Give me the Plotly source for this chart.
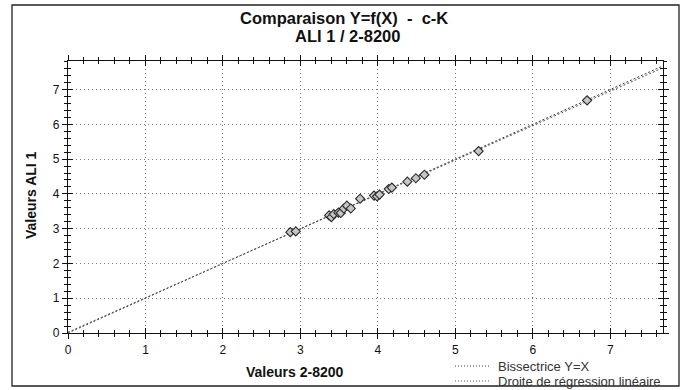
import numpy as np
import plotly.graph_objects as go

# Paired measurements: 2-8200 (X) against ALI 1 (Y)
x_vals = [2.87, 2.94, 3.37, 3.40, 3.43, 3.49, 3.52, 3.56, 3.60, 3.65, 3.77,
          3.95, 3.99, 4.02, 4.14, 4.18, 4.38, 4.49, 4.60, 5.30, 6.70]
y_vals = [2.90, 2.92, 3.38, 3.33, 3.42, 3.46, 3.45, 3.58, 3.66, 3.58, 3.86,
          3.95, 3.93, 3.98, 4.14, 4.18, 4.35, 4.45, 4.55, 5.23, 6.69]
x_max = 7.68
y_max = 7.82
tick_vals = [0, 1, 2, 3, 4, 5, 6, 7]
legend_labels = ["Bissectrice Y=X", "Droite de régression linéaire"]

FONT = "Liberation Sans, Arial, sans-serif"
W, H = 686, 390
ML, MR, MT, MB = 68, 23, 61, 57
PW, PH = W - ML - MR, H - MT - MB


def px_x(p):
    """Pixel column -> paper x."""
    return (p - ML) / PW


def px_y(p):
    """Pixel row -> paper y."""
    return (H - MB - p) / PH


slope, intercept = np.polyfit(x_vals, y_vals, 1)
line_x = [0, x_max]
reg_y = [intercept + slope * v for v in line_x]

line_styles = [dict(color="#3a3a3a", width=1, dash="2px,2px"),
               dict(color="#555555", width=1, dash="2px,2px")]

fig = go.Figure()
fig.add_trace(go.Scatter(x=line_x, y=line_x, mode="lines", name=legend_labels[0],
                         line=line_styles[0], hoverinfo="skip", showlegend=False))
fig.add_trace(go.Scatter(x=line_x, y=reg_y, mode="lines", name=legend_labels[1],
                         line=line_styles[1], hoverinfo="skip", showlegend=False))
fig.add_trace(go.Scatter(
    x=x_vals, y=y_vals, mode="markers", showlegend=False,
    marker=dict(symbol="diamond", size=7, color="#c4c8c4",
                line=dict(color="#2a2a2a", width=1.1))))
# helper trace so the overlay axes (inner tick halves) are drawn
fig.add_trace(go.Scatter(x=[None], y=[None], xaxis="x2", yaxis="y2",
                         showlegend=False, hoverinfo="skip"))

axis_common = dict(tickvals=tick_vals, showline=True, linecolor="#111111",
                   linewidth=1.3, mirror="ticks", zeroline=False)
minor_out = dict(dtick=0.2, ticks="outside", ticklen=3, tickcolor="#111111",
                 showgrid=False)
minor_in = dict(dtick=0.2, ticks="inside", ticklen=3, tickcolor="#111111")
grid = dict(showgrid=True, gridcolor="#7a7a7a", griddash="1px,3px", gridwidth=1)

fig.update_layout(
    width=W, height=H,
    margin=dict(l=ML, r=MR, t=MT, b=MB),
    paper_bgcolor="white", plot_bgcolor="white",
    font=dict(family=FONT, size=12, color="#111111"),
    showlegend=False,
    xaxis=dict(**axis_common, **grid, range=[0, x_max], ticks="outside",
               ticklen=5, tickcolor="#111111", minor=minor_out),
    yaxis=dict(**axis_common, **grid, range=[0, y_max], ticks="outside",
               ticklen=5, tickcolor="#111111", minor=minor_out),
    xaxis2=dict(**axis_common, range=[0, x_max], overlaying="x", anchor="y2",
                showgrid=False, showticklabels=False, ticks="inside",
                ticklen=5, tickcolor="#111111", minor=minor_in),
    yaxis2=dict(**axis_common, range=[0, y_max], overlaying="y", anchor="x2",
                side="left", showgrid=False, showticklabels=False,
                ticks="inside", ticklen=5, tickcolor="#111111", minor=minor_in),
)

# title, two centred lines
title_font = dict(family=FONT, size=16.5, color="#111111")
fig.add_annotation(text="<b>Comparaison Y=f(X)\u00a0\u00a0-\u00a0\u00a0c-K</b>",
                   xref="paper", yref="paper", x=px_x(344), y=px_y(18),
                   xanchor="center", yanchor="middle", showarrow=False,
                   font=title_font)
fig.add_annotation(text="<b>ALI 1 / 2-8200</b>", xref="paper", yref="paper",
                   x=px_x(347), y=px_y(36), xanchor="center", yanchor="middle",
                   showarrow=False, font=title_font)

# axis titles
axis_title_font = dict(family=FONT, size=14, color="#111111")
fig.add_annotation(text="<b>Valeurs 2-8200</b>", xref="paper", yref="paper",
                   x=px_x(295), y=px_y(372), xanchor="center",
                   yanchor="middle", showarrow=False, font=axis_title_font)
fig.add_annotation(text="<b>Valeurs ALI 1</b>", xref="paper", yref="paper",
                   x=px_x(31), y=px_y(195), xanchor="center", yanchor="middle",
                   textangle=-90, showarrow=False, font=axis_title_font)

# legend: dotted line sample + label for each line
for i, (label, style) in enumerate(zip(legend_labels, line_styles)):
    row = 366 + 15 * i
    fig.add_shape(type="line", xref="paper", yref="paper",
                  x0=px_x(455), x1=px_x(490), y0=px_y(row), y1=px_y(row),
                  line=dict(color=style["color"], width=1, dash="1px,2px"))
    fig.add_annotation(text=label, xref="paper", yref="paper",
                       x=px_x(496), y=px_y(row), xanchor="left",
                       yanchor="middle", showarrow=False,
                       font=dict(family=FONT, size=13, color="#333333"))

# outer frame around the whole chart
fig.add_shape(type="rect", xref="paper", yref="paper",
              x0=px_x(12), x1=px_x(679), y0=px_y(386), y1=px_y(5),
              line=dict(color="#222222", width=1.3), layer="below")

fig.write_html("out.html")
